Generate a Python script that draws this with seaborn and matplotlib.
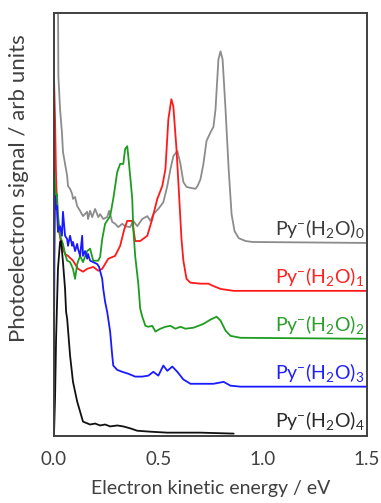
import numpy as np
import pandas as pd
import matplotlib
matplotlib.use('Agg')
import matplotlib.pyplot as plt
import seaborn as sns

# Photoelectron spectra of Py-(H2O)n clusters
# signal is relative to each trace's own baseline
clusters = ['0', '1', '2', '3', '4']
offsets = [4, 3, 2, 1, 0]
line_colors = ['#8c8c8c', '#ff1a1a', '#1f9c1f', '#1a1aff', '#111111']
label_colors = ['#3a3a3a', '#ff2020', '#2a9e2a', '#2020ff', '#2a2a2a']

energy_0 = [0.018, 0.021, 0.029, 0.038, 0.043, 0.063, 0.067, 0.077, 0.087, 0.091, 0.101,
            0.111, 0.125, 0.139, 0.159, 0.163, 0.173, 0.183, 0.197, 0.212, 0.221, 0.236,
            0.255, 0.264, 0.279, 0.293, 0.308, 0.327, 0.341, 0.365, 0.380, 0.399, 0.423,
            0.447, 0.462, 0.476, 0.5, 0.524, 0.543, 0.558, 0.572, 0.587, 0.591, 0.606,
            0.620, 0.635, 0.654, 0.678, 0.688, 0.702, 0.716, 0.731, 0.75, 0.764, 0.774,
            0.788, 0.798, 0.808, 0.822, 0.837, 0.851, 0.865, 0.885, 0.918, 0.952, 1.5]
signal_0 = [6.0, 3.48, 2.79, 2.31, 1.90, 1.40, 1.19, 1.13, 1.02, 0.92, 0.96,
            0.77, 0.67, 0.56, 0.65, 0.50, 0.67, 0.54, 0.71, 0.54, 0.60, 0.50,
            0.54, 0.67, 0.44, 0.40, 0.33, 0.40, 0.35, 0.33, 0.46, 0.35, 0.50,
            0.56, 0.46, 0.60, 0.71, 0.85, 1.19, 1.54, 1.81, 1.90, 1.92, 1.65,
            1.27, 1.17, 1.15, 1.13, 1.19, 1.33, 1.65, 2.13, 2.31, 2.42, 2.79,
            3.83, 4.0, 3.83, 2.79, 1.54, 0.60, 0.25, 0.10, 0.04, 0.02, 0.0]

energy_1 = [0.0, 0.005, 0.01, 0.019, 0.034, 0.053, 0.067, 0.091, 0.115, 0.139, 0.159,
            0.188, 0.212, 0.231, 0.260, 0.293, 0.317, 0.337, 0.351, 0.375, 0.389, 0.413,
            0.447, 0.471, 0.495, 0.519, 0.534, 0.548, 0.5625, 0.572, 0.587, 0.596, 0.611,
            0.620, 0.635, 0.654, 0.702, 0.740, 0.764, 0.798, 0.861, 1.5]
signal_1 = [4.46, 3.58, 2.33, 1.40, 0.98, 0.77, 0.73, 0.63, 0.46, 0.40, 0.46,
            0.50, 0.42, 0.46, 0.67, 0.73, 0.94, 1.29, 1.46, 1.46, 1.04, 1.04,
            1.15, 1.50, 1.92, 2.19, 2.54, 3.58, 4.0, 3.85, 2.96, 2.27, 1.08,
            0.63, 0.25, 0.17, 0.15, 0.15, 0.10, 0.04, 0.0, 0.0]

energy_2 = [0.0, 0.005, 0.01, 0.014, 0.019, 0.029, 0.043, 0.053, 0.063, 0.077, 0.091,
            0.101, 0.111, 0.125, 0.139, 0.159, 0.173, 0.188, 0.212, 0.221, 0.231, 0.245,
            0.269, 0.284, 0.303, 0.317, 0.332, 0.341, 0.351, 0.356, 0.365, 0.375, 0.380,
            0.389, 0.404, 0.413, 0.423, 0.438, 0.452, 0.471, 0.486, 0.510, 0.534, 0.558,
            0.582, 0.606, 0.630, 0.668, 0.716, 0.75, 0.779, 0.798, 0.822, 0.846, 0.894, 1.5]
signal_2 = [3.65, 3.23, 2.92, 3.02, 2.60, 2.15, 1.98, 1.77, 1.63, 1.60, 1.46,
            1.25, 1.56, 1.73, 1.60, 1.83, 1.88, 1.63, 1.63, 1.71, 2.08, 2.40,
            2.56, 2.92, 3.48, 3.65, 3.65, 3.96, 4.02, 3.81, 3.40, 2.92, 2.29,
            1.73, 1.15, 0.63, 0.46, 0.27, 0.25, 0.27, 0.15, 0.21, 0.25, 0.27,
            0.21, 0.25, 0.21, 0.23, 0.31, 0.40, 0.46, 0.38, 0.17, 0.06, 0.02, 0.0]

energy_3 = [0.0, 0.002, 0.005, 0.01, 0.014, 0.019, 0.029, 0.038, 0.043, 0.053, 0.063,
            0.067, 0.077, 0.087, 0.091, 0.101, 0.111, 0.115, 0.125, 0.135, 0.139, 0.149,
            0.159, 0.163, 0.173, 0.188, 0.207, 0.216, 0.231, 0.236, 0.245, 0.255, 0.269,
            0.279, 0.284, 0.303, 0.327, 0.356, 0.389, 0.423, 0.452, 0.476, 0.5, 0.524,
            0.543, 0.567, 0.591, 0.620, 0.654, 0.702, 0.764, 0.813, 0.846, 0.894, 1.5]
signal_3 = [0.79, 2.67, 3.98, 3.71, 3.77, 3.23, 3.35, 3.15, 3.65, 3.15, 3.08,
            2.94, 3.15, 2.94, 3.02, 2.83, 2.98, 2.88, 2.73, 3.15, 2.73, 2.83,
            2.67, 2.77, 2.63, 2.60, 2.56, 2.50, 2.25, 2.04, 1.77, 1.56, 1.15,
            0.65, 0.44, 0.35, 0.31, 0.27, 0.21, 0.21, 0.23, 0.31, 0.23, 0.44,
            0.33, 0.42, 0.31, 0.15, 0.06, 0.06, 0.06, 0.10, 0.02, 0.0, 0.0]

energy_4 = [0.0, 0.005, 0.01, 0.019, 0.029, 0.034, 0.043, 0.053, 0.058, 0.063, 0.077,
            0.091, 0.111, 0.125, 0.139, 0.173, 0.197, 0.221, 0.245, 0.269, 0.303, 0.332,
            0.365, 0.399, 0.462, 0.543, 0.702, 0.861]
signal_4 = [0.0, 0.75, 2.0, 3.46, 4.02, 4.04, 3.60, 3.04, 2.56, 2.42, 1.65,
            1.10, 0.69, 0.48, 0.27, 0.21, 0.23, 0.19, 0.21, 0.17, 0.19, 0.17,
            0.13, 0.08, 0.06, 0.04, 0.04, 0.02]

energies = [energy_0, energy_1, energy_2, energy_3, energy_4]
signals = [signal_0, signal_1, signal_2, signal_3, signal_4]

# build one long table, each trace shifted up by its offset
frames = []
for n, e, s, off in zip(clusters, energies, signals, offsets):
    frames.append(pd.DataFrame({'energy': e,
                                'signal': np.array(s) + off,
                                'cluster': n}))
df = pd.concat(frames, ignore_index=True)

sns.set_style('white')
plt.rcParams['font.family'] = ['Lato', 'DejaVu Sans']
plt.rcParams['mathtext.fontset'] = 'custom'
plt.rcParams['mathtext.rm'] = 'Lato'
plt.rcParams['mathtext.it'] = 'Lato'

text_color = '#404040'
fig = plt.figure(figsize=(3.81, 5.03), dpi=100)
ax = fig.add_axes([54 / 381, 67 / 503, 313 / 381, 423 / 503])

sns.lineplot(data=df, x='energy', y='signal', hue='cluster',
             palette=dict(zip(clusters, line_colors)), estimator=None,
             sort=False, legend=False, linewidth=1.3, ax=ax)

# trace labels sit just above each baseline at the right edge
for n, off, c in zip(clusters, offsets, label_colors):
    ax.text(1.487, off + 0.3, r'Py$^{-}$(H$_2$O)$_%s$' % n, color=c,
            ha='right', va='center', fontsize=14)

ax.set_xlim(0, 1.5)
ax.set_ylim(-0.03, 8.8)
ax.set_xticks([0.0, 0.5, 1.0, 1.5])
ax.set_xticklabels(['0.0', '0.5', '1.0', '1.5'])
ax.set_yticks([])
ax.tick_params(axis='x', direction='inout', length=9, width=1.3,
               color=text_color, labelcolor=text_color, labelsize=13.5, pad=6)
for sp in ax.spines.values():
    sp.set_color(text_color)
    sp.set_linewidth(1.4)

ax.set_xlabel('Electron kinetic energy / eV', fontsize=14, color=text_color, labelpad=9)
ax.set_ylabel('Photoelectron signal / arb units', fontsize=16, color=text_color)
ax.yaxis.set_label_coords(-0.08, 0.586)

fig.savefig('out.png', dpi=100)
